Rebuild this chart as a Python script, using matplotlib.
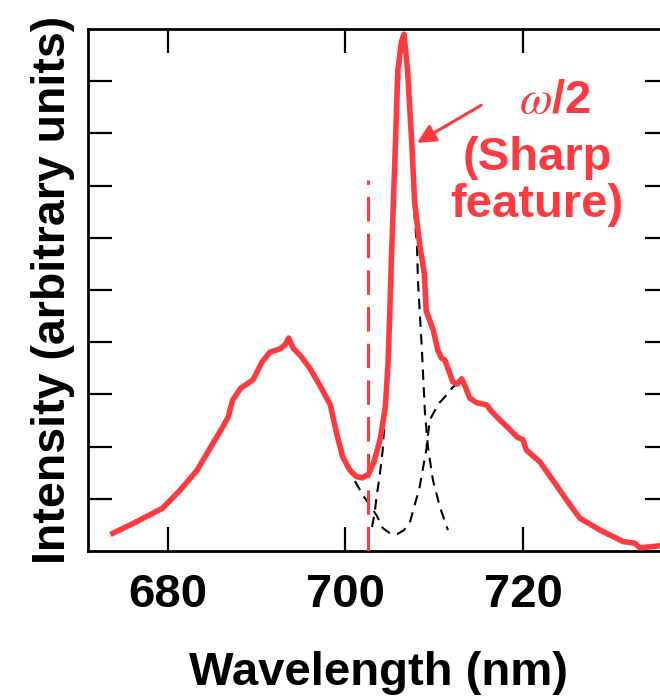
import numpy as np
import matplotlib
matplotlib.use("Agg")
import matplotlib.pyplot as plt

plt.rcParams['font.family'] = ['Liberation Sans', 'DejaVu Sans']
plt.rcParams['mathtext.fontset'] = 'stix'

RED = '#ff3a3f'

# measured spectrum (red)
wl = [673.8, 676.0, 679.4, 681.4, 683.3, 685.1, 686.2, 686.8, 687.0, 687.3,
      688.2, 689.6, 690.6, 691.5, 692.6, 693.2, 693.6, 694.1, 694.9, 696.0,
      697.1, 698.3, 699.0, 699.7, 700.5, 701.2, 701.9, 702.6, 703.2, 703.9,
      704.5, 704.8, 705.0, 705.2, 705.6, 705.9, 706.3, 706.6, 707.0, 707.5,
      707.8, 708.4, 708.9, 709.1, 709.9, 710.4, 710.8, 711.2, 712.1, 712.6,
      713.1, 713.5, 714.0, 714.8, 715.9, 716.5, 717.4, 718.4, 719.3, 720.0,
      720.4, 721.9, 723.4, 724.9, 726.4, 728.7, 731.3, 732.6, 733.2, 735.4,
      736.5]
inten = [0.34, 0.52, 0.82, 1.17, 1.55, 2.07, 2.38, 2.57, 2.70, 2.89,
         3.12, 3.28, 3.62, 3.81, 3.87, 3.95, 4.08, 3.89, 3.75, 3.50,
         3.18, 2.80, 2.26, 1.80, 1.55, 1.43, 1.40, 1.47, 1.70, 2.13,
         2.76, 3.60, 4.56, 5.70, 7.62, 9.20, 9.75, 9.90, 9.21, 7.75,
         6.67, 5.83, 5.30, 4.60, 4.23, 3.85, 3.70, 3.66, 3.24, 3.20,
         3.30, 3.15, 2.93, 2.84, 2.80, 2.67, 2.51, 2.35, 2.19, 2.13,
         1.93, 1.71, 1.35, 0.98, 0.63, 0.40, 0.18, 0.15, 0.06, 0.10,
         0.12]

# fitted components (black dashed)
narrow_wl = [703.0, 703.3, 703.5, 703.9, 704.2, 704.6, 705.0, 705.4, 705.8, 706.2,
             706.6, 707.0, 707.4, 707.7, 708.06, 708.17, 708.6, 708.96, 709.3, 709.86,
             710.65, 711.55]
narrow_i = [0.46, 0.73, 1.03, 1.49, 1.93, 3.0, 4.4, 6.4, 8.4, 9.4,
            9.75, 9.2, 7.8, 6.6, 5.86, 5.19, 3.91, 2.64, 1.99, 1.36,
            0.84, 0.40]
broad_wl = [701.07, 701.97, 702.99, 703.55, 704.2, 705.1, 705.9, 706.6, 707.3, 707.8,
            708.3, 708.7, 709.1, 709.5, 710.1, 710.6, 711.4, 712.1, 712.6]
broad_i = [1.34, 1.07, 0.82, 0.67, 0.44, 0.33, 0.33, 0.40, 0.57, 0.88,
           1.17, 1.55, 1.93, 2.51, 2.70, 2.84, 2.99, 3.14, 3.20]

half_omega = 702.6
xticks = [680, 700, 720]

fig = plt.figure(figsize=(6.6, 6.96), dpi=100)
ax = fig.add_axes([0.1333, 0.2083, 0.8803, 0.75])

ax.plot(narrow_wl, narrow_i, color='k', lw=1.5, ls=(0, (5, 3.5)), zorder=2)
ax.plot(broad_wl, broad_i, color='k', lw=1.5, ls=(0, (5, 3.5)), zorder=2)
ax.plot([half_omega, half_omega], [0, 7.1], color=RED, lw=2.2, ls=(0, (8, 4)), zorder=3)
ax.plot(wl, inten, color=RED, lw=4.0, zorder=4, solid_joinstyle='round')

ax.annotate('', xy=(708.06, 7.82), xytext=(715.3, 8.54),
            arrowprops=dict(arrowstyle='-|>', color=RED, lw=2.2, mutation_scale=28,
                            shrinkA=0, shrinkB=0))
ax.text(723.6, (551 - 113) / 52.2, r'$\omega$/2', color=RED, fontsize=34,
        fontweight='bold', ha='center', va='baseline')
ax.text(721.6, (551 - 170) / 52.2, '(Sharp', color=RED, fontsize=34,
        fontweight='bold', ha='center', va='baseline')
ax.text(721.6, (551 - 217) / 52.2, 'feature)', color=RED, fontsize=34,
        fontweight='bold', ha='center', va='baseline')

ax.set_xlim(671.0, 736.45)
ax.set_ylim(0, 10)
ax.set_xticks(xticks)
ax.set_yticks(range(1, 10))
ax.set_yticklabels([])
ax.tick_params(direction='in', length=17, width=1.6, top=True, right=True,
               labelsize=34)
ax.tick_params(axis='x', pad=16)
ax.tick_params(axis='y', pad=0)
for lab in ax.get_xticklabels():
    lab.set_fontweight('bold')
for s in ax.spines.values():
    s.set_linewidth(2)

ax.set_xlabel('Wavelength (nm)', fontsize=34, fontweight='bold', labelpad=24)
ax.set_ylabel('Intensity (arbitrary units)', fontsize=33.5, fontweight='bold', labelpad=9)

fig.savefig('out.png', dpi=100)
